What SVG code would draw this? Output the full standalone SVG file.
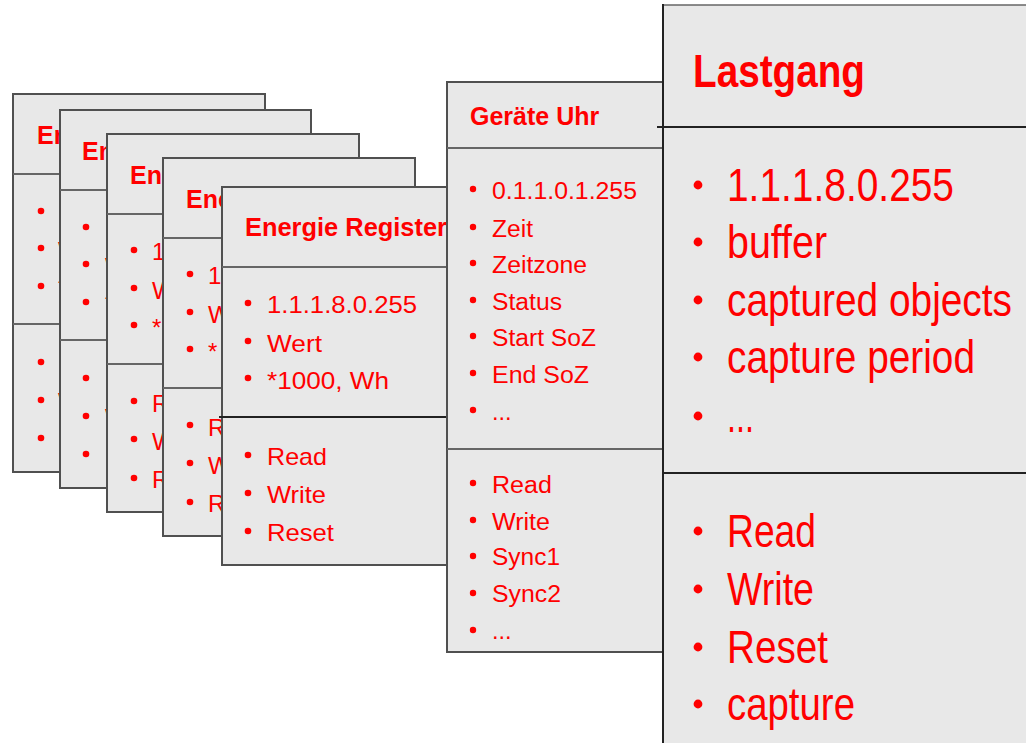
<svg xmlns="http://www.w3.org/2000/svg" width="1026" height="743" viewBox="0 0 1026 743">
<defs>
<style>
.card{fill:#e8e8e8;stroke:#505050;stroke-width:2}
.div{stroke:#666;stroke-width:2.2}
.ttl{font-family:"Liberation Sans",Arial,sans-serif;font-weight:bold;font-size:25px;fill:#f00}
.it{font-family:"Liberation Sans",Arial,sans-serif;font-size:24px;fill:#f00}
.it2{font-family:"Liberation Sans",Arial,sans-serif;font-size:23.5px;fill:#f00}
.big{font-family:"Liberation Sans",Arial,sans-serif;font-size:47px;fill:#f00}
.bigt{font-family:"Liberation Sans",Arial,sans-serif;font-weight:bold;font-size:47px;fill:#f00}
.b{fill:#f00}
.dk{stroke:#222;stroke-width:2}
</style>
<clipPath id="c1" clipPathUnits="userSpaceOnUse"><rect x="0" y="0" width="47" height="378"/></clipPath>
<clipPath id="c2" clipPathUnits="userSpaceOnUse"><rect x="0" y="0" width="47" height="378"/></clipPath>
<clipPath id="c3" clipPathUnits="userSpaceOnUse"><rect x="0" y="0" width="56" height="378"/></clipPath>
<clipPath id="c4" clipPathUnits="userSpaceOnUse"><rect x="0" y="0" width="59" height="378"/></clipPath>
</defs>

<g id="card1" transform="translate(13,94)">
<rect class="card" x="0" y="0" width="252" height="378"/>
<line class="div" x1="0" y1="80" x2="252" y2="80"/>
<line class="div" x1="0" y1="230" x2="252" y2="230"/>
<g class="b"><circle cx="28" cy="117" r="3.3"/><circle cx="28" cy="154" r="3.3"/><circle cx="28" cy="192" r="3.3"/><circle cx="28" cy="268" r="3.3"/><circle cx="28" cy="306" r="3.3"/><circle cx="28" cy="344" r="3.3"/></g>
<g clip-path="url(#c1)">
<text class="ttl" x="24" y="50">En</text>
<text class="it" x="45" y="126">1</text><text class="it" x="45" y="165">W</text><text class="it" x="45" y="202">*</text>
<text class="it" x="45" y="278">R</text><text class="it" x="45" y="316">W</text><text class="it" x="45" y="354">R</text>
</g>
</g>

<g id="card2" transform="translate(60,110)">
<rect class="card" x="0" y="0" width="251" height="378"/>
<line class="div" x1="0" y1="80" x2="251" y2="80"/>
<line class="div" x1="0" y1="230" x2="251" y2="230"/>
<g class="b"><circle cx="26" cy="117" r="3.3"/><circle cx="26" cy="154" r="3.3"/><circle cx="26" cy="192" r="3.3"/><circle cx="26" cy="268" r="3.3"/><circle cx="26" cy="306" r="3.3"/><circle cx="26" cy="344" r="3.3"/></g>
<g clip-path="url(#c2)">
<text class="ttl" x="22" y="50">En</text>
<text class="it" x="45" y="126">1</text><text class="it" x="45" y="165">W</text><text class="it" x="45" y="202">*</text>
<text class="it" x="45" y="278">R</text><text class="it" x="45" y="316">W</text><text class="it" x="45" y="354">R</text>
</g>
</g>

<g id="card3" transform="translate(107,134)">
<rect class="card" x="0" y="0" width="252" height="378"/>
<line class="div" x1="0" y1="80" x2="252" y2="80"/>
<line class="div" x1="0" y1="230" x2="252" y2="230"/>
<g class="b"><circle cx="27" cy="116" r="3.3"/><circle cx="27" cy="154" r="3.3"/><circle cx="27" cy="191" r="3.3"/><circle cx="27" cy="267" r="3.3"/><circle cx="27" cy="305" r="3.3"/><circle cx="27" cy="344" r="3.3"/></g>
<g clip-path="url(#c3)">
<text class="ttl" x="23" y="50">En</text>
<text class="it" x="45" y="126">1</text><text class="it" x="45" y="165">W</text><text class="it" x="45" y="202">*</text>
<text class="it" x="45" y="278">R</text><text class="it" x="45" y="316">W</text><text class="it" x="45" y="354">R</text>
</g>
</g>

<g id="card4" transform="translate(163,158)">
<rect class="card" x="0" y="0" width="252" height="378"/>
<line class="div" x1="0" y1="80" x2="252" y2="80"/>
<line class="div" x1="0" y1="230" x2="252" y2="230"/>
<g class="b"><circle cx="27" cy="116" r="3.3"/><circle cx="27" cy="154" r="3.3"/><circle cx="27" cy="191" r="3.3"/><circle cx="27" cy="267" r="3.3"/><circle cx="27" cy="305" r="3.3"/><circle cx="27" cy="344" r="3.3"/></g>
<g clip-path="url(#c4)">
<text class="ttl" x="23" y="50">Ene</text>
<text class="it" x="45" y="126">1</text><text class="it" x="45" y="165">W</text><text class="it" x="45" y="202">*</text>
<text class="it" x="45" y="278">R</text><text class="it" x="45" y="316">W</text><text class="it" x="45" y="354">R</text>
</g>
</g>

<g id="energie-register" transform="translate(222,187)">
<rect class="card" x="0" y="0" width="252" height="378"/>
<line class="div" x1="0" y1="80" x2="252" y2="80"/>
<line class="dk" x1="-3" y1="230" x2="252" y2="230"/>
<text class="ttl" x="23" y="49" textLength="202" lengthAdjust="spacingAndGlyphs">Energie Register</text>
<g class="b"><circle cx="26" cy="116" r="3.3"/><circle cx="26" cy="154" r="3.3"/><circle cx="26" cy="191" r="3.3"/><circle cx="26" cy="268" r="3.3"/><circle cx="26" cy="306" r="3.3"/><circle cx="26" cy="344" r="3.3"/></g>
<text class="it" x="45" y="126" textLength="150" lengthAdjust="spacingAndGlyphs">1.1.1.8.0.255</text>
<text class="it" x="45" y="165" textLength="55" lengthAdjust="spacingAndGlyphs">Wert</text>
<text class="it" x="45" y="202" textLength="122" lengthAdjust="spacingAndGlyphs">*1000, Wh</text>
<text class="it" x="45" y="278" textLength="60" lengthAdjust="spacingAndGlyphs">Read</text>
<text class="it" x="45" y="316" textLength="59" lengthAdjust="spacingAndGlyphs">Write</text>
<text class="it" x="45" y="354" textLength="67" lengthAdjust="spacingAndGlyphs">Reset</text>
</g>

<g id="geraete-uhr">
<rect class="card" x="447" y="82" width="216" height="570"/>
<line class="div" x1="447" y1="148" x2="663" y2="148"/>
<line class="div" x1="447" y1="449" x2="663" y2="449"/>
<text class="ttl" x="470" y="125">Geräte Uhr</text>
<g class="b">
<circle cx="473" cy="189" r="3.2"/><circle cx="473" cy="227" r="3.2"/><circle cx="473" cy="263" r="3.2"/><circle cx="473" cy="300" r="3.2"/><circle cx="473" cy="336" r="3.2"/><circle cx="473" cy="373" r="3.2"/><circle cx="473" cy="410" r="3.2"/>
<circle cx="473" cy="483" r="3.2"/><circle cx="473" cy="520" r="3.2"/><circle cx="473" cy="556" r="3.2"/><circle cx="473" cy="593" r="3.2"/><circle cx="473" cy="630" r="3.2"/>
</g>
<text class="it2" x="492" y="199" textLength="145" lengthAdjust="spacingAndGlyphs">0.1.1.0.1.255</text>
<text class="it2" x="492" y="237" textLength="41" lengthAdjust="spacingAndGlyphs">Zeit</text>
<text class="it2" x="492" y="273" textLength="95" lengthAdjust="spacingAndGlyphs">Zeitzone</text>
<text class="it2" x="492" y="310" textLength="70" lengthAdjust="spacingAndGlyphs">Status</text>
<text class="it2" x="492" y="346" textLength="104" lengthAdjust="spacingAndGlyphs">Start SoZ</text>
<text class="it2" x="492" y="383" textLength="97" lengthAdjust="spacingAndGlyphs">End SoZ</text>
<text class="it2" x="492" y="420">...</text>
<text class="it2" x="492" y="493" textLength="60" lengthAdjust="spacingAndGlyphs">Read</text>
<text class="it2" x="492" y="530" textLength="58" lengthAdjust="spacingAndGlyphs">Write</text>
<text class="it2" x="492" y="565" textLength="68" lengthAdjust="spacingAndGlyphs">Sync1</text>
<text class="it2" x="492" y="602" textLength="69" lengthAdjust="spacingAndGlyphs">Sync2</text>
<text class="it2" x="492" y="639">...</text>
</g>

<g id="lastgang">
<rect x="663" y="5" width="370" height="745" fill="#e8e8e8"/>
<line x1="663" y1="5" x2="1026" y2="5" stroke="#666" stroke-width="1.6"/>
<line class="dk" x1="663" y1="4" x2="663" y2="743"/>
<line class="dk" x1="657" y1="127" x2="1026" y2="127"/>
<line class="dk" x1="663" y1="473" x2="1026" y2="473"/>
<text class="bigt" x="693" y="87" textLength="172" lengthAdjust="spacingAndGlyphs">Lastgang</text>
<g class="b">
<circle cx="698" cy="185" r="4.4"/><circle cx="698" cy="242" r="4.4"/><circle cx="698" cy="300" r="4.4"/><circle cx="698" cy="357" r="4.4"/><circle cx="698" cy="416" r="4.4"/>
<circle cx="698" cy="531" r="4.4"/><circle cx="698" cy="589" r="4.4"/><circle cx="698" cy="647" r="4.4"/><circle cx="698" cy="704" r="4.4"/>
</g>
<text class="big" x="727" y="201" textLength="227" lengthAdjust="spacingAndGlyphs">1.1.1.8.0.255</text>
<text class="big" x="727" y="258" textLength="100" lengthAdjust="spacingAndGlyphs">buffer</text>
<text class="big" x="727" y="316" textLength="285" lengthAdjust="spacingAndGlyphs">captured objects</text>
<text class="big" x="727" y="373" textLength="248" lengthAdjust="spacingAndGlyphs">capture period</text>
<text class="big" x="727" y="432" textLength="27" lengthAdjust="spacingAndGlyphs">...</text>
<text class="big" x="727" y="547" textLength="89" lengthAdjust="spacingAndGlyphs">Read</text>
<text class="big" x="727" y="605" textLength="87" lengthAdjust="spacingAndGlyphs">Write</text>
<text class="big" x="727" y="663" textLength="101" lengthAdjust="spacingAndGlyphs">Reset</text>
<text class="big" x="727" y="720" textLength="128" lengthAdjust="spacingAndGlyphs">capture</text>
</g>
</svg>
